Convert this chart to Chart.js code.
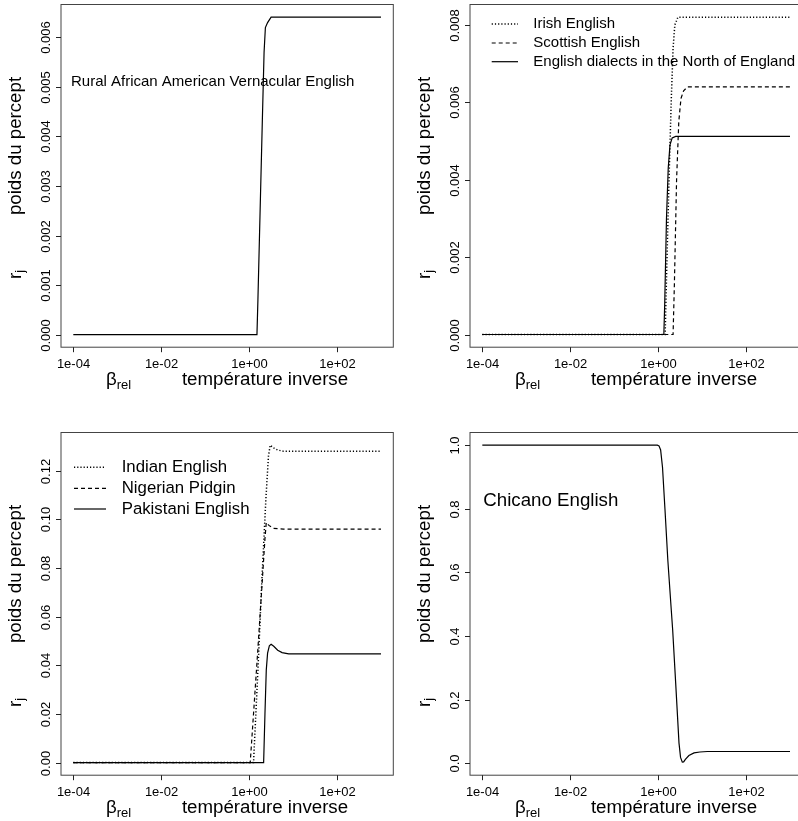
<!DOCTYPE html>
<html>
<head>
<meta charset="utf-8">
<script src="https://cdn.jsdelivr.net/npm/chart.js@4"></script>
<style>
html,body{margin:0;padding:0;background:#fff;}
#wrap{position:relative;width:798px;height:821px;overflow:hidden;background:#fff;}
canvas{position:absolute;}
</style>
</head>
<body>
<div id="wrap">
<canvas id="p1" width="400" height="410" style="left:0px;top:0px;width:400px;height:410px"></canvas>
<canvas id="p2" width="400" height="410" style="left:409px;top:0px;width:400px;height:410px"></canvas>
<canvas id="p3" width="400" height="410" style="left:0px;top:428px;width:400px;height:410px"></canvas>
<canvas id="p4" width="400" height="410" style="left:409px;top:428px;width:400px;height:410px"></canvas>
</div>
<script>
// ---------- data ----------
const xTickValues = [1e-4, 1e-2, 1e0, 1e2];
const xTickLabels = ['1e-04', '1e-02', '1e+00', '1e+02'];

// Panel 1 : Rural African American Vernacular English
const betaRAAVE = [1e-4, 1.507, 1.585, 1.778, 1.995, 2.188, 2.344, 2.630, 3.162, 3.981, 1000];
const rRAAVE    = [0, 0, 0.0007, 0.0025, 0.0043, 0.0057, 0.0062, 0.0063, 0.00641, 0.00641, 0.00641];
const yTicksP1 = [0, 0.001, 0.002, 0.003, 0.004, 0.005, 0.006];
const yLabelsP1 = ['0.000', '0.001', '0.002', '0.003', '0.004', '0.005', '0.006'];

// Panel 2 : British Isles
const betaIrish = [1e-4, 1.445, 1.585, 1.778, 1.995, 2.188, 2.399, 2.818, 1000];
const rIrish    = [0, 0, 0.0019, 0.0041, 0.0061, 0.0074, 0.0080, 0.0082, 0.0082];
const betaScottish = [1e-4, 2.188, 2.344, 2.630, 2.951, 3.311, 3.802, 4.677, 1000];
const rScottish    = [0, 0, 0.0013, 0.0040, 0.0055, 0.0061, 0.0063, 0.0064, 0.0064];
const betaNorth = [1e-4, 1.349, 1.413, 1.549, 1.698, 1.862, 2.089, 2.512, 1000];
const rNorth    = [0, 0, 0.0008, 0.0030, 0.0043, 0.0049, 0.00508, 0.00512, 0.00512];
const yTicksP2 = [0, 0.002, 0.004, 0.006, 0.008];
const yLabelsP2 = ['0.000', '0.002', '0.004', '0.006', '0.008'];
const namesP2 = ['Irish English', 'Scottish English', 'English dialects in the North of England'];

// Panel 3 : South Asia / Africa
const betaIndian = [1e-4, 1.259, 1.585, 1.950, 2.399, 2.754, 3.020, 3.548, 4.467, 6.026, 1000];
const rIndian    = [0, 0, 0.038, 0.075, 0.108, 0.126, 0.1305, 0.1294, 0.1285, 0.128, 0.128];
const betaNigerian = [1e-4, 1.059, 1.259, 1.585, 1.995, 2.291, 2.455, 2.818, 3.548, 6.026, 1000];
const rNigerian    = [0, 0, 0.020, 0.047, 0.075, 0.092, 0.0987, 0.0975, 0.0963, 0.096, 0.096];
const betaPakistani = [1e-4, 2.138, 2.291, 2.455, 2.630, 2.884, 3.162, 3.631, 4.467, 5.623, 7.943, 1000];
const rPakistani    = [0, 0, 0.020, 0.038, 0.045, 0.048, 0.0486, 0.0478, 0.0462, 0.0452, 0.0447, 0.0447];
const yTicksP3 = [0, 0.02, 0.04, 0.06, 0.08, 0.10, 0.12];
const yLabelsP3 = ['0.00', '0.02', '0.04', '0.06', '0.08', '0.10', '0.12'];
const namesP3 = ['Indian English', 'Nigerian Pidgin', 'Pakistani English'];

// Panel 4 : Chicano English
const betaChicano = [1e-4, 0.959, 1.047, 1.140, 1.259, 1.429, 1.660, 1.995, 2.143, 2.512, 2.985, 3.236, 3.548, 3.802, 4.169, 5.012, 6.561, 8.913, 13.18, 1000];
const rChicano    = [1, 1, 0.998, 0.985, 0.93, 0.80, 0.64, 0.48, 0.419, 0.25, 0.063, 0.018, 0.003, 0.004, 0.012, 0.024, 0.032, 0.035, 0.0365, 0.0365];
const yTicksP4 = [0, 0.2, 0.4, 0.6, 0.8, 1.0];
const yLabelsP4 = ['0.0', '0.2', '0.4', '0.6', '0.8', '1.0'];

// ---------- drawing ----------
const FONT = '"Liberation Sans", Arial, Helvetica, sans-serif';
const DOTTED = [1.2, 2];
const DASHED = [4, 3];
const BOX = {left: 61, right: 393.3, top: 4.5, bottom: 347.2};

function pts(xs, ys) { return xs.map((x, i) => ({x: x, y: ys[i]})); }

function ds(xs, ys, dash) {
  const dotted = dash === DOTTED;
  return {data: pts(xs, ys), borderColor: '#000', borderWidth: dotted ? 1.5 : 1.2, borderDash: dash || [],
          pointRadius: 0, tension: 0, fill: false};
}

function drawLegend(ctx, items, x0, x1, xt, ys, fontPx) {
  ctx.save();
  ctx.font = fontPx + 'px ' + FONT;
  ctx.fillStyle = '#000';
  ctx.textBaseline = 'middle';
  ctx.textAlign = 'left';
  items.forEach((it, i) => {
    ctx.beginPath();
    ctx.setLineDash(it.dash);
    ctx.strokeStyle = '#000';
    ctx.lineWidth = it.dash === DOTTED ? 1.5 : 1.2;
    ctx.moveTo(x0, ys[i]);
    ctx.lineTo(x1, ys[i]);
    ctx.stroke();
    ctx.setLineDash([]);
    ctx.fillText(it.name, xt, ys[i]);
  });
  ctx.restore();
}

const frame = {
  id: 'rframe',
  afterDraw(chart, args, opts) {
    const ctx = chart.ctx;
    const xs = chart.scales.x, ys = chart.scales.y;
    const a = chart.chartArea;
    ctx.save();
    // box
    ctx.strokeStyle = '#444';
    ctx.lineWidth = 1;
    ctx.strokeRect(a.left, a.top, a.right - a.left, a.bottom - a.top);
    ctx.strokeStyle = '#222';
    // x ticks
    ctx.fillStyle = '#000';
    ctx.font = '13px ' + FONT;
    ctx.textAlign = 'center';
    ctx.textBaseline = 'alphabetic';
    xTickValues.forEach((v, i) => {
      const px = Math.round(xs.getPixelForValue(v)) + 0.5;
      ctx.beginPath(); ctx.moveTo(px, a.bottom); ctx.lineTo(px, a.bottom + 5); ctx.stroke();
      ctx.fillText(xTickLabels[i], px, a.bottom + 21);
    });
    // y ticks
    opts.yTicks.forEach((v, i) => {
      const py = Math.round(ys.getPixelForValue(v)) + 0.5;
      ctx.beginPath(); ctx.moveTo(a.left - 5, py); ctx.lineTo(a.left, py); ctx.stroke();
      ctx.save();
      ctx.translate(a.left - 11.5, py);
      ctx.rotate(-Math.PI / 2);
      ctx.textAlign = 'center';
      ctx.fillText(opts.yLabels[i], 0, 0);
      ctx.restore();
    });
    // x axis title
    ctx.textAlign = 'left';
    ctx.font = '18.7px ' + FONT;
    const base = a.bottom + 37.8;
    ctx.fillText('\u03B2', 106, base);
    const bw = ctx.measureText('\u03B2').width;
    ctx.font = '13px ' + FONT;
    ctx.fillText('rel', 106 + bw, base + 3.5);
    ctx.font = '18.7px ' + FONT;
    ctx.textAlign = 'center';
    ctx.fillText('temp\u00e9rature inverse', 265, base);
    // y axis title
    ctx.save();
    ctx.translate(20.5, a.top + 141.5);
    ctx.rotate(-Math.PI / 2);
    ctx.textAlign = 'center';
    ctx.fillText('poids du percept', 0, 0);
    ctx.restore();
    ctx.save();
    ctx.translate(20.5, a.top + 274.5);
    ctx.rotate(-Math.PI / 2);
    ctx.textAlign = 'left';
    ctx.font = '18.7px ' + FONT;
    ctx.fillText('r', 0, 0);
    const rw = ctx.measureText('r').width;
    ctx.font = '13px ' + FONT;
    ctx.fillText('j', rw, 3.5);
    ctx.restore();
    ctx.restore();
    if (opts.extra) opts.extra(ctx, chart);
  }
};

function makePanel(id, datasets, yMin, yMax, yTicks, yLabels, extra) {
  return new Chart(document.getElementById(id), {
    type: 'line',
    data: {datasets: datasets},
    options: {
      responsive: false,
      animation: false,
      devicePixelRatio: 1,
      layout: {padding: {left: BOX.left, top: BOX.top, right: 400 - BOX.right, bottom: 410 - BOX.bottom}},
      plugins: {legend: {display: false}, tooltip: {enabled: false},
                rframe: {yTicks: yTicks, yLabels: yLabels, extra: extra}},
      scales: {
        x: {type: 'logarithmic', min: Math.pow(10, -4.28), max: Math.pow(10, 3.28), display: false},
        y: {type: 'linear', min: yMin, max: yMax, display: false}
      }
    },
    plugins: [frame]
  });
}

makePanel('p1', [ds(betaRAAVE, rRAAVE)], -0.000256, 0.006666, yTicksP1, yLabelsP1, (ctx) => {
  ctx.save();
  ctx.font = '15px ' + FONT; ctx.fillStyle = '#000';
  ctx.textAlign = 'left'; ctx.textBaseline = 'middle';
  ctx.fillText('Rural African American Vernacular English', 71, 81.7);
  ctx.restore();
});

makePanel('p2', [ds(betaIrish, rIrish, DOTTED), ds(betaScottish, rScottish, DASHED), ds(betaNorth, rNorth)],
  -0.000328, 0.008528, yTicksP2, yLabelsP2, (ctx) => {
  drawLegend(ctx, [{name: namesP2[0], dash: DOTTED}, {name: namesP2[1], dash: DASHED}, {name: namesP2[2], dash: []}],
    82.7, 109, 124.3, [24, 43, 61.7], 15);
});

makePanel('p3', [ds(betaIndian, rIndian, DOTTED), ds(betaNigerian, rNigerian, DASHED), ds(betaPakistani, rPakistani)],
  -0.0052, 0.1357, yTicksP3, yLabelsP3, (ctx) => {
  drawLegend(ctx, [{name: namesP3[0], dash: DOTTED}, {name: namesP3[1], dash: DASHED}, {name: namesP3[2], dash: []}],
    74, 106, 121.7, [39.3, 60.3, 81], 16.8);
});

makePanel('p4', [ds(betaChicano, rChicano)], -0.038, 1.04, yTicksP4, yLabelsP4, (ctx) => {
  ctx.save();
  ctx.font = '18.7px ' + FONT; ctx.fillStyle = '#000';
  ctx.textAlign = 'left'; ctx.textBaseline = 'middle';
  ctx.fillText('Chicano English', 74.3, 72.7);
  ctx.restore();
});
</script>
</body>
</html>
